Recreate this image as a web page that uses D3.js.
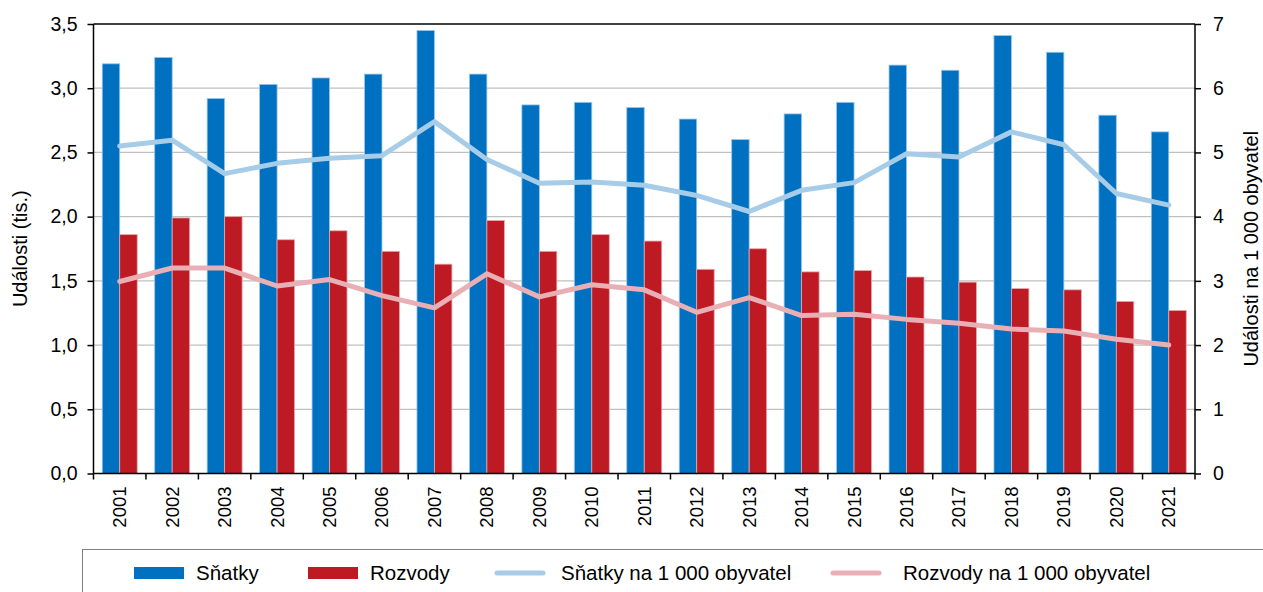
<!DOCTYPE html>
<html>
<head>
<meta charset="utf-8">
<script src="https://cdn.jsdelivr.net/npm/d3@7"></script>
<style>
    body { margin: 0; background: #fff; }
    svg { display: block; font-family: "Liberation Sans", Arial, sans-serif; }
    .axis text { font-size: 19.5px; fill: #000; }
    .axis.x text { font-size: 18.5px; }
    .axis path, .axis line { stroke: #000; stroke-width: 1.5px; }
    .grid line { stroke: #c0c0c0; stroke-width: 1.3px; }
    .title { font-size: 20px; fill: #000; }
    .legend text { font-size: 20.5px; fill: #000; }
</style>
</head>
<body>
<div id="chart"></div>
<script>
'use strict';

// Data.
var years = ['2001', '2002', '2003', '2004', '2005', '2006', '2007', '2008', '2009', '2010',
    '2011', '2012', '2013', '2014', '2015', '2016', '2017', '2018', '2019', '2020', '2021'];
var snatky = [3.19, 3.24, 2.92, 3.03, 3.08, 3.11, 3.45, 3.11, 2.87, 2.89,
    2.85, 2.76, 2.60, 2.80, 2.89, 3.18, 3.14, 3.41, 3.28, 2.79, 2.66];
var rozvody = [1.86, 1.99, 2.00, 1.82, 1.89, 1.73, 1.63, 1.97, 1.73, 1.86,
    1.81, 1.59, 1.75, 1.57, 1.58, 1.53, 1.49, 1.44, 1.43, 1.34, 1.27];
var snatkyNa1000 = [5.10, 5.19, 4.67, 4.83, 4.91, 4.95, 5.48, 4.89, 4.52, 4.54,
    4.49, 4.33, 4.08, 4.41, 4.53, 4.98, 4.93, 5.32, 5.12, 4.36, 4.18];
var rozvodyNa1000 = [2.99, 3.20, 3.20, 2.92, 3.02, 2.77, 2.58, 3.11, 2.75, 2.94,
    2.86, 2.51, 2.74, 2.46, 2.48, 2.40, 2.34, 2.25, 2.22, 2.09, 2.00];
var leftTicks = [0, 0.5, 1, 1.5, 2, 2.5, 3, 3.5];
var rightTicks = [0, 1, 2, 3, 4, 5, 6, 7];
var seriesNames = ['Sňatky', 'Rozvody', 'Sňatky na 1 000 obyvatel', 'Rozvody na 1 000 obyvatel'];

var colors = {
    snatky: '#0070c0',
    rozvody: '#be1a23',
    snatkyLine: '#a6cce8',
    rozvodyLine: '#e8b0b5'
};

var width = 1263;
var height = 592;
var margin = {top: 24, right: 68, bottom: 118.5, left: 93.5};
var plotW = width - margin.left - margin.right;
var plotH = height - margin.top - margin.bottom;

var svg = d3.select('#chart').append('svg')
    .attr('width', width)
    .attr('height', height);

var g = svg.append('g')
    .attr('transform', 'translate(' + margin.left + ',' + margin.top + ')');

// Scales.
var x = d3.scaleBand()
    .domain(years)
    .range([0, plotW])
    .padding(0);
var bw = x.bandwidth();
var xSub = d3.scaleBand()
    .domain(['snatky', 'rozvody'])
    .range([bw / 6, bw * 5 / 6]);
var yLeft = d3.scaleLinear().domain([0, 3.5]).range([plotH, 0]);
var yRight = d3.scaleLinear().domain([0, 7]).range([plotH, 0]);

// Grid lines.
g.append('g')
    .attr('class', 'grid')
    .selectAll('line')
    .data(leftTicks.filter(function(d) { return d > 0 && d < 3.5; }))
    .enter()
    .append('line')
    .attr('x1', 0)
    .attr('x2', plotW)
    .attr('y1', function(d) { return yLeft(d); })
    .attr('y2', function(d) { return yLeft(d); });

// Bars.
var rows = years.map(function(y, i) {
    return {year: y, snatky: snatky[i], rozvody: rozvody[i]};
});
var groups = g.selectAll('g.year')
    .data(rows)
    .enter()
    .append('g')
    .attr('class', 'year')
    .attr('transform', function(d) { return 'translate(' + x(d.year) + ',0)'; });
groups.append('rect')
    .attr('x', xSub('snatky'))
    .attr('width', xSub.bandwidth())
    .attr('y', function(d) { return yLeft(d.snatky); })
    .attr('height', function(d) { return plotH - yLeft(d.snatky); })
    .attr('fill', colors.snatky)
    .attr('stroke', '#9cc6ea')
    .attr('stroke-width', 0.8);
groups.append('rect')
    .attr('x', xSub('rozvody'))
    .attr('width', xSub.bandwidth())
    .attr('y', function(d) { return yLeft(d.rozvody); })
    .attr('height', function(d) { return plotH - yLeft(d.rozvody); })
    .attr('fill', colors.rozvody)
    .attr('stroke', '#e7a9ad')
    .attr('stroke-width', 0.8);

// Lines on the right axis.
var line = d3.line()
    .x(function(d, i) { return x(years[i]) + bw / 2; })
    .y(function(d) { return yRight(d); });
g.append('path')
    .datum(snatkyNa1000)
    .attr('d', line)
    .attr('fill', 'none')
    .attr('stroke', colors.snatkyLine)
    .attr('stroke-width', 5)
    .attr('stroke-linejoin', 'round')
    .attr('stroke-linecap', 'round');
g.append('path')
    .datum(rozvodyNa1000)
    .attr('d', line)
    .attr('fill', 'none')
    .attr('stroke', colors.rozvodyLine)
    .attr('stroke-width', 5)
    .attr('stroke-linejoin', 'round')
    .attr('stroke-linecap', 'round');

// Frame top line.
g.append('line')
    .attr('x1', 0).attr('x2', plotW)
    .attr('y1', 0).attr('y2', 0)
    .attr('stroke', '#000')
    .attr('stroke-width', 1.5);

// Left axis.
var fmt = function(d) { return d3.format('.1f')(d).replace('.', ','); };
g.append('g')
    .attr('class', 'axis')
    .call(d3.axisLeft(yLeft).tickValues(leftTicks).tickFormat(fmt).tickSize(6).tickSizeOuter(0).tickPadding(10))
    .call(function(a) { a.select('.domain').attr('d', 'M0,0V' + plotH); });

// Right axis.
g.append('g')
    .attr('class', 'axis')
    .attr('transform', 'translate(' + plotW + ',0)')
    .call(d3.axisRight(yRight).tickValues(rightTicks).tickFormat(d3.format('d')).tickSize(6).tickSizeOuter(0).tickPadding(12))
    .call(function(a) { a.select('.domain').attr('d', 'M0,0V' + plotH); });

// Bottom axis: labels at category centres, ticks at category boundaries.
var xAxis = g.append('g')
    .attr('class', 'axis x')
    .attr('transform', 'translate(0,' + plotH + ')')
    .call(d3.axisBottom(x).tickSize(0).tickSizeOuter(0));
xAxis.select('.domain').attr('d', 'M0,0H' + plotW);
xAxis.selectAll('text')
    .attr('transform', 'rotate(-90)')
    .attr('text-anchor', 'end')
    .attr('x', -13)
    .attr('y', 0)
    .attr('dy', '0.35em');
xAxis.selectAll('line.bound')
    .data(years.concat(['end']))
    .enter()
    .append('line')
    .attr('class', 'bound')
    .attr('x1', function(d) { return d === 'end' ? plotW : x(d); })
    .attr('x2', function(d) { return d === 'end' ? plotW : x(d); })
    .attr('y1', 0)
    .attr('y2', 6);

// Axis titles.
svg.append('text')
    .attr('class', 'title')
    .attr('transform', 'translate(27,' + (margin.top + plotH / 2) + ') rotate(-90)')
    .attr('text-anchor', 'middle')
    .text('Události (tis.)');
svg.append('text')
    .attr('class', 'title')
    .attr('transform', 'translate(1258,' + (margin.top + plotH / 2) + ') rotate(-90)')
    .attr('text-anchor', 'middle')
    .text('Události na 1 000 obyvatel');

// Legend.
var legend = svg.append('g').attr('class', 'legend');
legend.append('rect')
    .attr('x', 82.5)
    .attr('y', 549.5)
    .attr('width', 1200)
    .attr('height', 60)
    .attr('fill', '#fff')
    .attr('stroke', '#7f7f7f')
    .attr('stroke-width', 1);
var legendItems = [
    {name: seriesNames[0], type: 'bar', color: colors.snatky, x: 134, tx: 62},
    {name: seriesNames[1], type: 'bar', color: colors.rozvody, x: 308, tx: 62},
    {name: seriesNames[2], type: 'line', color: colors.snatkyLine, x: 495, tx: 66},
    {name: seriesNames[3], type: 'line', color: colors.rozvodyLine, x: 831, tx: 72}
];
var li = legend.selectAll('g.item')
    .data(legendItems)
    .enter()
    .append('g')
    .attr('class', 'item')
    .attr('transform', function(d) { return 'translate(' + d.x + ',573)'; });
li.filter(function(d) { return d.type === 'bar'; })
    .append('rect')
    .attr('x', 0)
    .attr('y', -6)
    .attr('width', 50)
    .attr('height', 12)
    .attr('fill', function(d) { return d.color; });
li.filter(function(d) { return d.type === 'line'; })
    .append('line')
    .attr('x1', 2).attr('x2', 48)
    .attr('y1', 0).attr('y2', 0)
    .attr('stroke', function(d) { return d.color; })
    .attr('stroke-width', 5)
    .attr('stroke-linecap', 'round');
li.append('text')
    .attr('x', function(d) { return d.tx; })
    .attr('y', 0)
    .attr('dy', '0.35em')
    .text(function(d) { return d.name; });
</script>
</body>
</html>
